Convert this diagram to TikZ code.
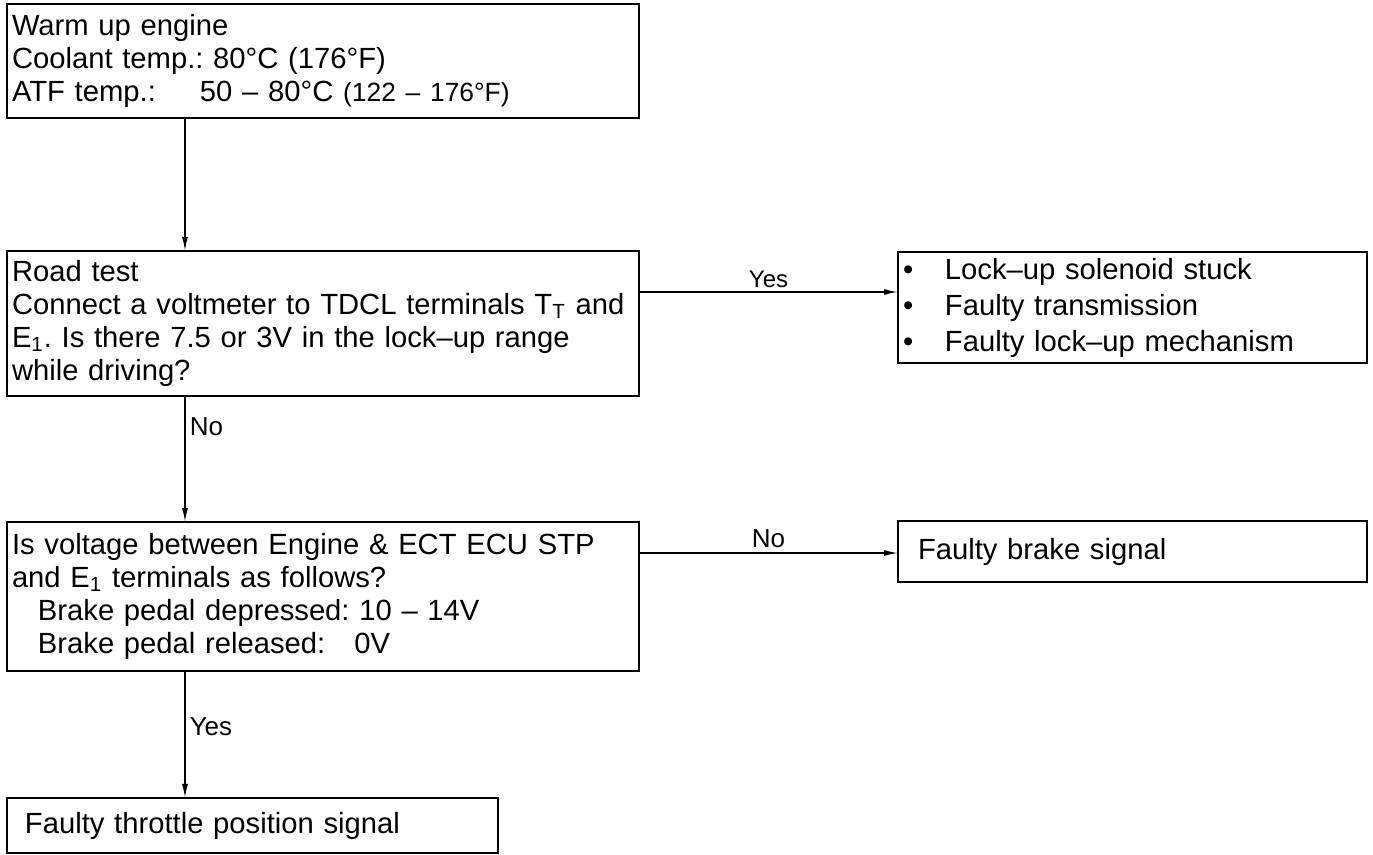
\documentclass[tikz,border=0pt]{standalone}
\usepackage{fontspec}
\setmainfont{Liberation Sans}
\usetikzlibrary{positioning,arrows.meta,calc}
\frenchspacing

\begin{document}
\begin{tikzpicture}[
  x=0.5pt, y=-0.5pt,
  font=\fontsize{14.6}{16.5}\selectfont,
  box/.style={draw=black, line width=1.4pt, anchor=north west, align=left,
              inner xsep=2.5pt, inner ysep=0pt, outer sep=0pt},
  lbl/.style={font=\fontsize{13}{15}\selectfont, inner sep=2pt},
  arr/.style={-{Latex[length=7pt,width=3pt]}, line width=0.75pt},
]
\useasboundingbox (0,0) rectangle (1373,855);

% ─── left column ───────────────────────────────────────────────────────────
\node[box, text width=311pt, minimum height=57pt] (warm) at (7,4)
  {Warm up engine\\
   Coolant temp.: 80°C (176°F)\\
   \makebox[94pt][l]{ATF temp.:}50 – 80°C {\fontsize{13.2}{16.5}\selectfont(122 – 176°F)}};
\node[box, text width=311pt, minimum height=72.5pt] (road) at (7,251)
  {Road test\\
   \mbox{Connect a voltmeter to TDCL terminals T\textsubscript{T} and}\\
   E\textsubscript{1}. Is there 7.5 or 3V in the lock–up range\\
   while driving?};
\node[box, text width=311pt, minimum height=74.5pt] (check) at (7,522)
  {Is voltage between Engine \& ECT ECU STP\\
   and E\textsubscript{1} terminals as follows?\\
   \hspace*{13pt}Brake pedal depressed: 10 – 14V\\
   \hspace*{13pt}\rlap{Brake pedal released:}\hphantom{Brake pedal depressed:\,}0V};
\node[box, text width=227.5pt, inner xsep=9pt, minimum height=27.5pt] (tps) at (7,798)
  {Faulty throttle position signal};

% ─── right column ──────────────────────────────────────────────────────────
\node[box, text width=229.5pt, minimum height=55.5pt,
      font=\fontsize{14.6}{18}\selectfont] (lockup) at (898,252)
  {\makebox[21pt][l]{\textbullet}Lock–up solenoid stuck\\
   \makebox[21pt][l]{\textbullet}Faulty transmission\\
   \makebox[21pt][l]{\textbullet}Faulty lock–up mechanism};
\node[box, text width=214.5pt, inner xsep=10pt, minimum height=30.5pt] (brake) at (898,521)
  {Faulty brake signal};

% ─── connectors ────────────────────────────────────────────────────────────
\coordinate (vx) at (185,0);
\coordinate (yesy) at (0,292);
\coordinate (noy) at (0,553);

\draw[arr] (warm.south -| vx) -- (road.north -| vx);
\draw[arr] (road.south -| vx) -- node[lbl, right, pos=0.24]{No} (check.north -| vx);
\draw[arr] (check.south -| vx) -- node[lbl, right, pos=0.44]{Yes} (tps.north -| vx);
\draw[arr] (road.east |- yesy) -- node[lbl, above, font=\fontsize{12}{14}\selectfont]{Yes}
  (lockup.west |- yesy);
\draw[arr] (check.east |- noy) -- node[lbl, above]{No} (brake.west |- noy);

\end{tikzpicture}
\end{document}
